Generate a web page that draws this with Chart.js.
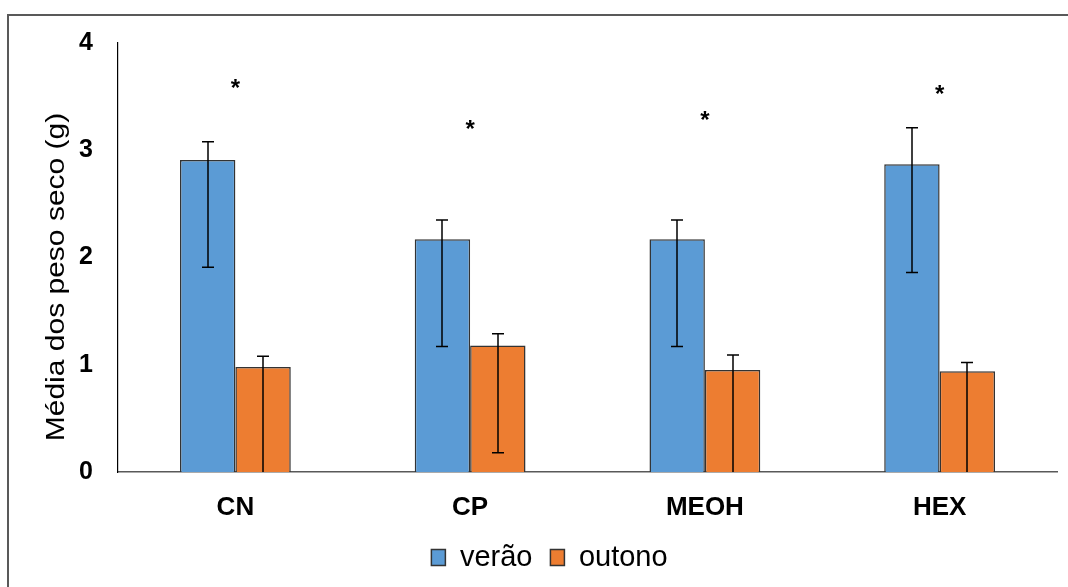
<!DOCTYPE html>
<html>
<head>
<meta charset="utf-8">
<script src="https://cdn.jsdelivr.net/npm/chart.js@4"></script>
<style>
  html, body { margin: 0; padding: 0; background: #fff; }
  #wrap { position: relative; width: 1068px; height: 587px; overflow: hidden; }
  #frame { position: absolute; left: 7px; top: 14px; width: 1100px; height: 700px;
           border-left: 2px solid #595959; border-top: 2px solid #595959; }
  #chart { position: absolute; left: 0; top: 0; }
</style>
</head>
<body>
<div id="wrap">
  <div id="frame"></div>
  <canvas id="chart" width="1068" height="587"></canvas>
</div>
<script>
// values
const categories = ['CN', 'CP', 'MEOH', 'HEX'];
const verao = [2.91, 2.17, 2.17, 2.87];
const outono = [0.98, 1.18, 0.95, 0.94];
const veraoErrHigh = [3.08, 2.35, 2.35, 3.21];
const veraoErrLow = [1.91, 1.17, 1.17, 1.86];
const outonoErrHigh = [1.08, 1.29, 1.09, 1.02];
const outonoErrLow = [0, 0.18, 0, 0];
const asteriskY = [3.62, 3.24, 3.32, 3.57];
const yTicks = [0, 1, 2, 3, 4];
const yTitle = 'Média dos peso seco (g)';

const FONT = "'Liberation Sans', Arial, sans-serif";

// draws the error bars from the high/low arrays
const errorBars = {
    id: 'errorBars',
    afterDatasetsDraw(chart) {
        const ctx = chart.ctx;
        const y = chart.scales.y;
        const sets = [[veraoErrHigh, veraoErrLow], [outonoErrHigh, outonoErrLow]];
        ctx.save();
        ctx.strokeStyle = '#000';
        ctx.lineWidth = 1.5;
        sets.forEach((pair, d) => {
            const meta = chart.getDatasetMeta(d);
            meta.data.forEach((bar, i) => {
                const x = Math.round(bar.x);
                const yh = y.getPixelForValue(pair[0][i]);
                const yl = y.getPixelForValue(pair[1][i]);
                ctx.beginPath();
                ctx.moveTo(x, yh);
                ctx.lineTo(x, yl);
                ctx.moveTo(x - 6, yh);
                ctx.lineTo(x + 6, yh);
                if (pair[1][i] > 0) {
                    ctx.moveTo(x - 6, yl);
                    ctx.lineTo(x + 6, yl);
                }
                ctx.stroke();
            });
        });
        ctx.restore();
    }
};

// asterisks above each group + rotated y title
const extras = {
    id: 'extras',
    afterDraw(chart) {
        const ctx = chart.ctx;
        const x = chart.scales.x;
        const y = chart.scales.y;
        ctx.save();
        ctx.fillStyle = '#000';
        ctx.font = 'bold 24px ' + FONT;
        ctx.textAlign = 'center';
        ctx.textBaseline = 'alphabetic';
        const m = ctx.measureText('*');
        const off = (m.actualBoundingBoxDescent - m.actualBoundingBoxAscent) / 2;
        categories.forEach((c, i) => {
            ctx.fillText('*', x.getPixelForValue(i), y.getPixelForValue(asteriskY[i]) - off);
        });
        // y axis title
        ctx.translate(64, 277);
        ctx.rotate(-Math.PI / 2);
        ctx.scale(1.2, 1);
        ctx.font = '25px ' + FONT;
        ctx.fillText(yTitle, 0, 0);
        ctx.restore();
    }
};

new Chart(document.getElementById('chart'), {
    type: 'bar',
    data: {
        labels: categories,
        datasets: [{
            label: 'verão',
            data: verao,
            backgroundColor: '#5B9BD5',
            borderColor: '#333333',
            borderWidth: 1.5
        }, {
            label: 'outono',
            data: outono,
            backgroundColor: '#ED7D31',
            borderColor: '#333333',
            borderWidth: 1.5
        }]
    },
    options: {
        responsive: false,
        animation: false,
        layout: { padding: { left: 42, right: 11, top: 43, bottom: 5 } },
        datasets: { bar: { categoryPercentage: 0.472, barPercentage: 1 } },
        plugins: {
            legend: {
                position: 'bottom',
                labels: {
                    color: '#000',
                    font: { family: FONT, size: 29 },
                    boxWidth: 14,
                    boxHeight: 16,
                    padding: 18
                }
            },
            tooltip: { enabled: false }
        },
        scales: {
            x: {
                grid: { display: false, drawTicks: false },
                border: { display: true, color: '#595959', width: 1.5 },
                ticks: { color: '#000', padding: 20, font: { family: FONT, size: 26, weight: 'bold' } },
                afterFit: (scale) => { scale.height = 53; }
            },
            y: {
                min: 0,
                max: 4,
                afterBuildTicks: (scale) => { scale.ticks = yTicks.map(v => ({ value: v })); },
                grid: { display: false, drawTicks: false },
                border: { display: true, color: '#000', width: 1.2 },
                ticks: { color: '#000', padding: 25, font: { family: FONT, size: 25, weight: 'bold' } },
                afterFit: (scale) => { scale.width = 76; }
            }
        }
    },
    plugins: [errorBars, extras]
});
</script>
</body>
</html>
